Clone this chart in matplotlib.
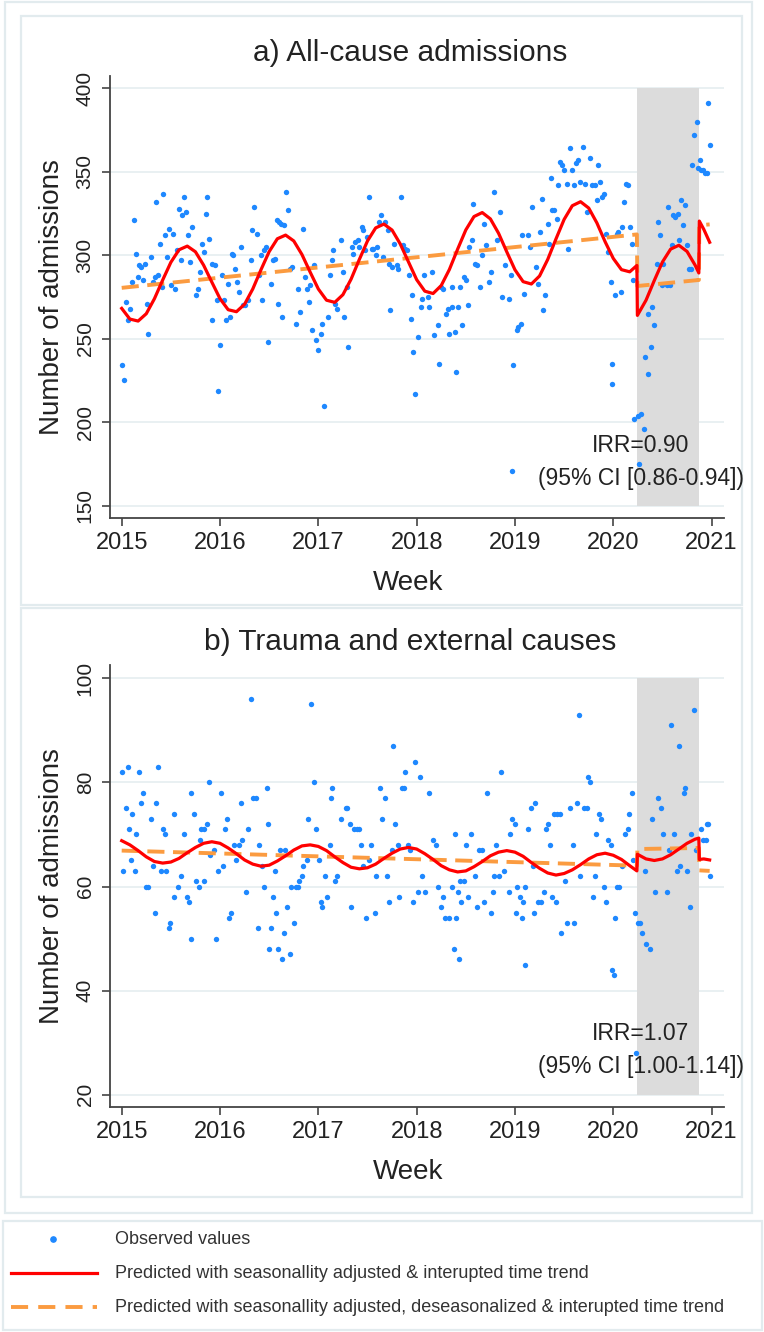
import matplotlib
matplotlib.use("Agg")
import matplotlib.pyplot as plt
from matplotlib.patches import Rectangle
from matplotlib.lines import Line2D

plt.rcParams['font.family'] = ['Liberation Sans', 'DejaVu Sans']

# ---------------- data ----------------
# a) All-cause admissions: observed weekly values (decimal year, count)
obs_a_t = [2015.000, 2015.027, 2015.041, 2015.068, 2015.085, 2015.102, 2015.122, 2015.142, 2015.163, 2015.180,
           2015.197, 2015.220, 2015.237, 2015.254, 2015.271, 2015.295, 2015.322, 2015.339, 2015.349, 2015.366,
           2015.390, 2015.407, 2015.424, 2015.441, 2015.464, 2015.481, 2015.502, 2015.525, 2015.542, 2015.559,
           2015.583, 2015.603, 2015.617, 2015.637, 2015.651, 2015.671, 2015.695, 2015.719, 2015.753, 2015.773,
           2015.797, 2015.814, 2015.841, 2015.854, 2015.871, 2015.888, 2015.915, 2015.922, 2015.949, 2015.966,
           2015.983, 2016.000, 2016.024, 2016.044, 2016.058, 2016.078, 2016.102, 2016.119, 2016.136, 2016.153,
           2016.169, 2016.193, 2016.214, 2016.237, 2016.254, 2016.288, 2016.312, 2016.329, 2016.349, 2016.373,
           2016.397, 2016.417, 2016.424, 2016.451, 2016.464, 2016.492, 2016.515, 2016.542, 2016.559, 2016.576,
           2016.593, 2016.600, 2016.620, 2016.634, 2016.654, 2016.671, 2016.688, 2016.712, 2016.736, 2016.769,
           2016.790, 2016.814, 2016.847, 2016.864, 2016.881, 2016.905, 2016.915, 2016.939, 2016.956, 2016.973,
           2017.000, 2017.024, 2017.041, 2017.058, 2017.095, 2017.119, 2017.136, 2017.153, 2017.169, 2017.193,
           2017.231, 2017.254, 2017.264, 2017.288, 2017.305, 2017.339, 2017.356, 2017.373, 2017.400, 2017.417,
           2017.441, 2017.458, 2017.475, 2017.498, 2017.519, 2017.542, 2017.559, 2017.583, 2017.600, 2017.617,
           2017.637, 2017.661, 2017.678, 2017.705, 2017.722, 2017.729, 2017.753, 2017.773, 2017.797, 2017.814,
           2017.841, 2017.864, 2017.881, 2017.898, 2017.922, 2017.942, 2017.956, 2017.966, 2017.983,
           2018.018, 2018.045, 2018.059, 2018.079, 2018.120, 2018.126, 2018.153, 2018.181, 2018.215, 2018.230,
           2018.248, 2018.272, 2018.296, 2018.323, 2018.330, 2018.357, 2018.364, 2018.391, 2018.400, 2018.418,
           2018.442, 2018.465, 2018.486, 2018.499, 2018.520, 2018.533, 2018.560, 2018.577, 2018.594, 2018.618,
           2018.645, 2018.662, 2018.689, 2018.703, 2018.737, 2018.757, 2018.791, 2018.815, 2018.848, 2018.865,
           2018.899, 2018.943, 2018.960, 2018.970, 2018.980, 2019.018, 2019.035, 2019.062, 2019.076, 2019.096,
           2019.137, 2019.153, 2019.171, 2019.211, 2019.231, 2019.255, 2019.272, 2019.289, 2019.306, 2019.333,
           2019.347, 2019.367, 2019.381, 2019.401, 2019.425, 2019.442, 2019.459, 2019.476, 2019.503, 2019.526,
           2019.537, 2019.560, 2019.577, 2019.604, 2019.618, 2019.645, 2019.662, 2019.696, 2019.713, 2019.730,
           2019.764, 2019.787, 2019.815, 2019.831, 2019.848, 2019.865, 2019.889, 2019.909, 2019.923, 2019.943,
           2019.975, 2019.984, 2019.990, 2020.018, 2020.035, 2020.052, 2020.079, 2020.093, 2020.113, 2020.126,
           2020.154, 2020.171, 2020.187, 2020.204, 2020.212, 2020.250, 2020.262, 2020.280, 2020.310, 2020.323,
           2020.350, 2020.357, 2020.384, 2020.398, 2020.418, 2020.442, 2020.459, 2020.476, 2020.493, 2020.510,
           2020.543, 2020.560, 2020.577, 2020.594, 2020.611, 2020.628, 2020.655, 2020.669, 2020.689, 2020.713,
           2020.730, 2020.747, 2020.771, 2020.791, 2020.804, 2020.825, 2020.848, 2020.865, 2020.882, 2020.892,
           2020.916, 2020.933, 2020.950, 2020.960, 2020.984]
obs_a_y = [234, 225, 272, 261, 268, 284, 321, 301, 287, 294,
           293, 285, 295, 271, 253, 299, 284, 287, 332, 288,
           307, 281, 337, 312, 299, 316, 282, 313, 280, 303,
           328, 297, 324, 335, 326, 312, 296, 317, 276, 280,
           290, 307, 302, 325, 335, 310, 295, 261, 294, 273,
           219, 246, 288, 273, 261, 283, 263, 301, 300, 292,
           284, 278, 305, 270, 270, 273, 297, 315, 329, 313,
           288, 300, 273, 303, 305, 248, 283, 297, 298, 321,
           271, 320, 319, 263, 318, 338, 327, 292, 293, 259,
           280, 266, 316, 287, 280, 272, 282, 255, 294, 249,
           243, 253, 259, 210, 263, 288, 297, 303, 271, 268,
           309, 290, 263, 281, 245, 305, 301, 308, 309, 305,
           317, 315, 303, 311, 335, 304, 304, 300, 305, 320,
           324, 299, 320, 315, 295, 267, 293, 307, 294, 292,
           335, 306, 304, 303, 288, 262, 276, 242, 217,
           251, 269, 274, 288, 275, 269, 290, 252, 258, 235,
           281, 280, 265, 268, 253, 269, 281, 254, 230, 269,
           281, 258, 287, 285, 270, 305, 309, 331, 295, 294,
           281, 300, 319, 306, 284, 290, 338, 309, 326, 275,
           294, 274, 288, 171, 234, 255, 257, 259, 312, 277,
           312, 305, 329, 293, 283, 314, 334, 267, 276, 319,
           307, 346, 327, 327, 322, 342, 356, 354, 351, 343,
           304, 364, 351, 342, 355, 357, 344, 365, 343, 326,
           358, 342, 342, 333, 354, 344, 335, 337, 313, 302,
           284, 223, 235, 276, 313, 314, 278, 317, 332, 343,
           342, 317, 307, 285, 202, 204, 175, 205, 196, 239,
           229, 265, 245, 269, 258, 295, 320, 312, 282, 295,
           282, 329, 282, 306, 324, 323, 325, 309, 333, 318,
           330, 306, 292, 292, 354, 372, 380, 352, 357, 351,
           351, 349, 349, 391, 366]

# a) fitted lines: seasonal + interrupted trend (red) and deseasonalised trend (orange)
fit_t = [2015.000, 2015.083, 2015.167, 2015.250, 2015.333, 2015.417, 2015.500, 2015.583, 2015.667, 2015.750, 2015.833, 2015.917,
         2016.000, 2016.083, 2016.167, 2016.250, 2016.333, 2016.417, 2016.500, 2016.583, 2016.667, 2016.750, 2016.833, 2016.917,
         2017.000, 2017.083, 2017.167, 2017.250, 2017.333, 2017.417, 2017.500, 2017.583, 2017.667, 2017.750, 2017.833, 2017.917,
         2018.000, 2018.083, 2018.167, 2018.250, 2018.333, 2018.417, 2018.500, 2018.583, 2018.667, 2018.750, 2018.833, 2018.917,
         2019.000, 2019.083, 2019.167, 2019.250, 2019.333, 2019.417, 2019.500, 2019.583, 2019.667, 2019.750, 2019.833, 2019.917,
         2020.000, 2020.083, 2020.167, 2020.240,
         2020.245, 2020.333, 2020.417, 2020.500, 2020.583, 2020.667, 2020.750, 2020.833, 2020.870,
         2020.875, 2020.920, 2020.980]
fit_a_red = [268.2, 261.8, 260.6, 265.0, 274.0, 285.2, 295.8, 303.3, 305.5, 302.1, 294.1, 283.9,
             274.0, 267.4, 266.2, 270.7, 279.8, 291.4, 302.2, 309.9, 312.1, 308.6, 300.5, 289.9,
             279.8, 273.1, 271.8, 276.4, 285.7, 297.5, 308.6, 316.4, 318.7, 315.1, 306.8, 296.0,
             285.4, 278.5, 277.1, 281.9, 291.5, 303.7, 315.2, 323.2, 325.6, 321.8, 313.2, 302.0,
             291.3, 284.2, 282.8, 287.6, 297.5, 309.8, 321.5, 329.7, 332.1, 328.3, 319.4, 308.1,
             298.1, 291.4, 290.1, 293.9,
             264.0, 273.1, 284.9, 296.0, 303.7, 306.0, 302.3, 294.0, 289.4,
             320.5, 315.6, 307.8]
trend_a_t = [2015.000, 2020.240, 2020.245, 2020.870, 2020.875, 2020.980]
trend_a_y = [280.5, 312.5, 281.6, 285.2, 318.0, 318.5]

# b) Trauma and external causes: observed weekly values
obs_b_t = [2015.000, 2015.015, 2015.040, 2015.059, 2015.079, 2015.099, 2015.109, 2015.139, 2015.149, 2015.173,
           2015.198, 2015.213, 2015.248, 2015.272, 2015.297, 2015.322, 2015.337, 2015.347, 2015.371, 2015.396,
           2015.421, 2015.436, 2015.455, 2015.485, 2015.495, 2015.530, 2015.535, 2015.569, 2015.604, 2015.634,
           2015.663, 2015.683, 2015.703, 2015.708, 2015.733, 2015.752, 2015.782, 2015.792, 2015.807, 2015.832,
           2015.842, 2015.866, 2015.891, 2015.900, 2015.941, 2015.955, 2015.980, 2016.015, 2016.030, 2016.050,
           2016.074, 2016.089, 2016.114, 2016.139, 2016.163, 2016.188, 2016.213, 2016.223, 2016.262, 2016.287,
           2016.312, 2016.337, 2016.361, 2016.386, 2016.401, 2016.426, 2016.450, 2016.475, 2016.485, 2016.500,
           2016.515, 2016.535, 2016.559, 2016.574, 2016.594, 2016.609, 2016.634, 2016.649, 2016.658, 2016.683,
           2016.708, 2016.723, 2016.757, 2016.772, 2016.792, 2016.807, 2016.832, 2016.842, 2016.881, 2016.896,
           2016.921, 2016.955, 2016.980, 2017.005, 2017.030, 2017.040, 2017.069, 2017.089, 2017.119, 2017.129,
           2017.139, 2017.168, 2017.188, 2017.228, 2017.277, 2017.292, 2017.317, 2017.337, 2017.366, 2017.391,
           2017.416, 2017.436, 2017.450, 2017.485, 2017.515, 2017.535, 2017.574, 2017.584, 2017.624, 2017.649,
           2017.673, 2017.698, 2017.723, 2017.748, 2017.757, 2017.782, 2017.812, 2017.822, 2017.847, 2017.871,
           2017.881, 2017.911, 2017.936, 2017.960, 2017.980, 2018.010, 2018.030, 2018.059, 2018.089, 2018.129,
           2018.168, 2018.193, 2018.218, 2018.243, 2018.267, 2018.292, 2018.327, 2018.356, 2018.376, 2018.391,
           2018.400, 2018.416, 2018.431, 2018.441, 2018.455, 2018.480, 2018.505, 2018.525, 2018.554, 2018.589,
           2018.614, 2018.639, 2018.663, 2018.688, 2018.713, 2018.752, 2018.772, 2018.787, 2018.812, 2018.837,
           2018.861, 2018.886, 2018.936, 2018.950, 2018.970, 2019.000, 2019.010, 2019.020, 2019.050, 2019.069,
           2019.084, 2019.099, 2019.105, 2019.134, 2019.168, 2019.183, 2019.198, 2019.208, 2019.233, 2019.267,
           2019.297, 2019.317, 2019.332, 2019.356, 2019.381, 2019.396, 2019.416, 2019.431, 2019.455, 2019.465,
           2019.505, 2019.530, 2019.564, 2019.594, 2019.604, 2019.629, 2019.653, 2019.663, 2019.703, 2019.728,
           2019.743, 2019.762, 2019.792, 2019.812, 2019.827, 2019.851, 2019.876, 2019.901, 2019.926, 2019.950,
           2019.975, 2019.985, 2020.005, 2020.015, 2020.040, 2020.059, 2020.089, 2020.114, 2020.149, 2020.158,
           2020.188, 2020.198, 2020.223, 2020.230, 2020.248, 2020.272, 2020.287, 2020.322, 2020.337, 2020.371,
           2020.396, 2020.421, 2020.455, 2020.485, 2020.505, 2020.545, 2020.569, 2020.584, 2020.619, 2020.644,
           2020.668, 2020.683, 2020.718, 2020.733, 2020.752, 2020.782, 2020.792, 2020.817, 2020.842, 2020.891,
           2020.916, 2020.941, 2020.950, 2020.965, 2020.980]
obs_b_y = [82, 63, 75, 83, 71, 65, 74, 63, 70, 82,
           76, 78, 60, 60, 73, 64, 55, 76, 83, 63,
           71, 70, 63, 52, 53, 58, 74, 60, 62, 70,
           58, 57, 50, 78, 74, 61, 60, 69, 71, 61,
           71, 72, 80, 66, 67, 50, 63, 78, 64, 71,
           73, 54, 55, 68, 65, 68, 76, 69, 59, 71,
           96, 77, 77, 52, 68, 64, 60, 79, 72, 48,
           52, 58, 63, 55, 48, 67, 46, 51, 67, 56,
           47, 60, 53, 60, 60, 61, 62, 64, 65, 73,
           95, 80, 71, 65, 57, 56, 62, 58, 68, 77,
           79, 61, 62, 73, 75, 75, 72, 56, 71, 71,
           71, 68, 64, 54, 65, 68, 55, 62, 79, 73,
           77, 62, 57, 67, 87, 72, 68, 58, 79, 79,
           82, 68, 67, 57, 84, 59, 81, 62, 59, 78,
           69, 68, 60, 56, 58, 54, 54, 60, 48, 70,
           54, 59, 46, 61, 57, 61, 68, 58, 70, 62,
           56, 67, 67, 57, 78, 55, 59, 62, 68, 62,
           82, 63, 59, 70, 73, 72, 55, 60, 58, 54,
           57, 45, 60, 71, 75, 64, 55, 76, 57, 57,
           59, 71, 72, 68, 58, 74, 57, 74, 74, 51,
           61, 53, 75, 68, 53, 76, 93, 62, 75, 75,
           81, 80, 58, 62, 70, 74, 73, 60, 57, 69,
           68, 44, 43, 54, 60, 60, 64, 70, 71, 74,
           78, 65, 55, 28, 53, 53, 51, 63, 49, 48,
           73, 59, 77, 75, 70, 59, 67, 91, 70, 63,
           87, 64, 78, 79, 63, 56, 70, 94, 67, 71,
           69, 69, 72, 72, 62]

fit_b_red = [68.8, 68.0, 66.9, 65.7, 64.8, 64.5, 64.7, 65.4, 66.5, 67.5, 68.3, 68.6,
             68.3, 67.4, 66.3, 65.1, 64.3, 63.9, 64.1, 64.9, 65.9, 67.0, 67.8, 68.0,
             67.7, 66.9, 65.7, 64.6, 63.7, 63.4, 63.6, 64.3, 65.4, 66.4, 67.2, 67.5,
             67.2, 66.3, 65.2, 64.0, 63.2, 62.8, 63.0, 63.8, 64.8, 65.9, 66.6, 66.9,
             66.6, 65.8, 64.6, 63.5, 62.6, 62.2, 62.5, 63.2, 64.2, 65.3, 66.1, 66.4,
             66.0, 65.2, 64.0, 63.0,
             66.2, 65.3, 65.0, 65.3, 66.1, 67.2, 68.3, 69.1, 69.3,
             65.2, 65.3, 65.1]
trend_b_t = [2015.000, 2020.240, 2020.245, 2020.870, 2020.875, 2020.980]
trend_b_y = [66.9, 64.0, 67.2, 67.4, 63.1, 63.0]

years = [2015, 2016, 2017, 2018, 2019, 2020, 2021]
covid_start, covid_end = 2020.245, 2020.872

legend_labels = ['Observed values',
                 'Predicted with seasonallity adjusted & interupted time trend',
                 'Predicted with seasonallity adjusted, deseasonalized & interupted time trend']

# ---------------- figure ----------------
W, H = 764, 1332
fig = plt.figure(figsize=(W / 100, H / 100), dpi=100)

BLUE = '#1e88ff'
RED = '#ff0000'
ORANGE = '#fb9b40'
FRAME = '#e2ebee'
INK = '#222222'


def fx(px):
    return px / W


def fy(py):
    return 1 - py / H


def box(x0, y0, x1, y1):
    fig.patches.append(Rectangle((fx(x0), fy(y1)), (x1 - x0) / W, (y1 - y0) / H,
                                 transform=fig.transFigure, fill=False,
                                 edgecolor=FRAME, lw=1.6))


box(5, 2, 752, 1213)
box(21, 16, 742, 605)
box(21, 608, 742, 1197)
box(3, 1221, 762, 1330)


def panel(top, t, y, red, trend_t, trend_y, ylim, yticks, title, irr, ci):
    ax = fig.add_axes([fx(110), fy(top + 442.3), 614.3 / W, 442.3 / H])
    ax.set_xlim(2014.881, 2021.129)
    ax.set_ylim(*ylim)
    ax.set_axisbelow(True)
    ax.grid(axis='y', color='#e9f0f2', lw=1.4)
    ax.fill_between([covid_start, covid_end], yticks[0], yticks[-1],
                    color='#dcdcdc', lw=0, zorder=1)
    ax.scatter(t, y, s=15, color=BLUE, lw=0, zorder=3)
    ax.plot(trend_t, trend_y, color=ORANGE, lw=2.8, dashes=(4.4, 2.2), zorder=4)
    ax.plot(fit_t, red, color=RED, lw=2.3, zorder=5)

    for s in ['top', 'right']:
        ax.spines[s].set_visible(False)
    for s in ['left', 'bottom']:
        ax.spines[s].set_color('#444444')
        ax.spines[s].set_linewidth(1.3)

    ax.set_xticks(years)
    ax.set_xticklabels([str(v) for v in years])
    ax.set_yticks(yticks)
    ax.set_yticklabels([str(v) for v in yticks], rotation=90, va='center')
    ax.tick_params(axis='both', length=6, width=1.2, color='#444444', labelcolor=INK)
    ax.tick_params(axis='x', labelsize=17, pad=4)
    ax.tick_params(axis='y', labelsize=15, pad=5)

    fig.text(fx(410), fy(top - 23), title, fontsize=21.5, color=INK, ha='center', va='center')
    fig.text(fx(52), fy(top + 221), 'Number of admissions', fontsize=20, color=INK,
             rotation=90, ha='center', va='center')
    fig.text(fx(408), fy(top + 507), 'Week', fontsize=20, color=INK, ha='center', va='center')
    fig.text(fx(641), fy(top + 369), irr, fontsize=16.5, color=INK, ha='center', va='center')
    fig.text(fx(641), fy(top + 402), ci, fontsize=16.5, color=INK, ha='center', va='center')
    return ax


panel(76, obs_a_t, obs_a_y, fit_a_red, trend_a_t, trend_a_y, (142.45, 407.4),
      [150, 200, 250, 300, 350, 400], 'a) All-cause admissions',
      'IRR=0.90', '(95% CI [0.86-0.94])')
panel(665, obs_b_t, obs_b_y, fit_b_red, trend_b_t, trend_b_y, (17.59, 102.55),
      [20, 40, 60, 80, 100], 'b) Trauma and external causes',
      'IRR=1.07', '(95% CI [1.00-1.14])')

# legend drawn in figure pixels
fig.add_artist(Line2D([fx(53)], [fy(1239)], marker='o', ms=3.8, color=BLUE, lw=0))
fig.add_artist(Line2D([fx(11), fx(97)], [fy(1273), fy(1273)], color=RED, lw=2.3))
fig.add_artist(Line2D([fx(11), fx(97)], [fy(1307), fy(1307)], color=ORANGE, lw=2.8,
                      dashes=(4.4, 2.6)))
for label, ypix in zip(legend_labels, [1239, 1273, 1307]):
    fig.text(fx(115), fy(ypix), label, fontsize=13, color='#333333', ha='left', va='center')

fig.savefig('out.png', dpi=100)
